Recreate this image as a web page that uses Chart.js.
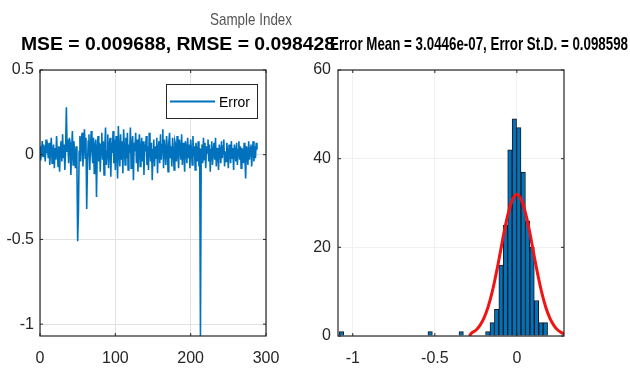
<!DOCTYPE html>
<html>
<head>
<meta charset="utf-8">
<script src="https://cdn.jsdelivr.net/npm/chart.js@4.4.1/dist/chart.umd.min.js"></script>
<style>
  html, body { margin: 0; padding: 0; background: #fff; }
  #wrap { position: relative; width: 630px; height: 376px; }
  #wrap canvas { position: absolute; left: 0; top: 0; }
</style>
</head>
<body>
<div id="wrap">
  <canvas id="errChart" width="630" height="376"></canvas>
  <canvas id="histChart" width="630" height="376"></canvas>
</div>
<script>
// Error por muestra
const errorValues = [
  -0.03, 0.05, 0.02, 0.08, -0.01, 0.06, 0.03, -0.04, 0.09, 0.01, 0.04, -0.02, 0.07, -0.06, 0.03, 0.10, -0.05, 0.02, 0.06, -0.08,
  0.04, -0.03, 0.11, 0.01, -0.07, 0.05, -0.10, 0.03, 0.08, -0.04, 0.12, -0.02, 0.06, -0.09, 0.04, 0.28, 0.02, 0.09, -0.05, 0.10,
  0.07, -0.12, 0.03, 0.14, -0.06, 0.08, 0.01, -0.08, 0.05, -0.05, -0.51, -0.34, 0.02, 0.11, -0.04, 0.09, 0.13, -0.07, 0.06, 0.15,
  -0.02, 0.10, -0.32, -0.06, 0.08, 0.12, -0.09, 0.04, 0.14, 0.02, -0.05, 0.10, -0.11, 0.05, 0.09, -0.25, 0.03, 0.11, -0.04, 0.07,
  -0.10, 0.06, 0.13, -0.03, 0.08, -0.12, 0.04, 0.16, -0.06, 0.02, 0.12, -0.08, 0.05, 0.10, -0.13, 0.07, 0.01, 0.14, -0.05, 0.09,
  -0.09, 0.11, 0.03, -0.14, 0.17, 0.02, -0.07, 0.12, -0.03, 0.08, -0.11, 0.15, 0.04, -0.06, 0.10, -0.02, 0.13, -0.09, 0.06, 0.01,
  0.16, -0.08, 0.05, 0.11, -0.15, 0.07, 0.02, 0.13, -0.05, 0.09, -0.10, 0.04, 0.12, -0.07, 0.03, 0.10, -0.04, 0.08, -0.12, 0.06,
  0.02, 0.11, -0.06, 0.05, -0.09, 0.13, 0.01, -0.04, 0.07, -0.15, 0.03, 0.09, -0.07, 0.05, -0.02, 0.10, -0.11, 0.04, 0.08, -0.05,
  0.12, -0.03, 0.06, 0.15, -0.08, 0.09, 0.02, -0.06, 0.11, 0.04, -0.10, 0.07, 0.13, -0.02, 0.05, -0.07, 0.10, 0.03, -0.09, 0.08,
  0.06, -0.04, 0.11, 0.01, -0.08, 0.09, 0.05, -0.03, 0.12, -0.06, 0.07, 0.02, -0.10, 0.08, 0.04, -0.05, 0.10, -0.02, 0.06, -0.08,
  0.09, 0.03, -0.06, 0.11, -0.01, 0.05, -0.09, 0.07, 0.02, -0.04, 0.08, -0.07, 0.04, -1.07, 0.03, 0.06, -0.05, 0.10, -0.03, 0.07,
  -0.08, 0.05, 0.01, 0.09, -0.04, 0.06, -0.10, 0.03, 0.08, -0.06, 0.02, 0.07, -0.03, 0.10, -0.07, 0.04, 0.01, -0.09, 0.06, 0.03,
  -0.05, 0.08, -0.02, 0.05, 0.09, -0.07, 0.02, -0.04, 0.07, 0.01, -0.08, 0.06, 0.03, -0.05, 0.08, -0.02, 0.04, -0.09, 0.06, 0.02,
  -0.04, 0.07, -0.06, 0.03, 0.08, -0.03, 0.05, -0.08, 0.04, 0.01, -0.05, 0.07, -0.02, -0.14, 0.05, 0.02, -0.06, 0.08, -0.03, 0.04,
  0.06, -0.07, 0.03, 0.08, -0.04, 0.05, -0.02, 0.07, 0.03
];

// Histograma: primer borde y ancho de clase, y cuentas por clase
const binStart = -1.082;
const binWidth = 0.027;
const histCounts = [
  1, 0, 0, 0, 0, 0, 0, 0, 0, 0, 0, 0, 0, 0, 0, 0, 0, 0, 0, 0,
  1, 0, 0, 0, 0, 0, 0, 1, 0, 0, 0, 0, 0,
  1, 3, 6, 16, 25, 42, 49, 47, 37, 26, 20, 8, 3, 3
];

// Curva normal ajustada
const fitX = [-0.29, -0.275, -0.25, -0.225, -0.2, -0.175, -0.15, -0.125, -0.1, -0.075, -0.05, -0.025, 0,
              0.025, 0.05, 0.075, 0.1, 0.125, 0.15, 0.175, 0.2, 0.225, 0.25, 0.275, 0.29];
const fitY = [0.0, 0.7, 1.3, 2.4, 4.1, 6.6, 10.0, 14.3, 19.1, 24.0, 28.1, 30.9, 32.0,
              30.9, 28.1, 24.0, 19.1, 14.3, 10.0, 6.6, 4.1, 2.4, 1.3, 0.7, 0.4];

// Etiquetas de los ejes
const errXTicks = [0, 100, 200, 300];
const errYTicks = [-1, -0.5, 0, 0.5];
const histXTicks = [-1, -0.5, 0];
const histYTicks = [0, 20, 40, 60];

const topTitle = 'Sample Index';
const leftTitle = 'MSE = 0.009688, RMSE = 0.098428';
const rightTitle = 'Error Mean = 3.0446e-07, Error St.D. = 0.098598';

const FONT = "'Liberation Sans', Arial, sans-serif";
const BLUE = '#0072BD';

// Texto ajustado a un ancho dado
function fitText(ctx, text, x, y, w, font, color) {
    ctx.save();
    ctx.font = font;
    ctx.fillStyle = color;
    ctx.textBaseline = 'alphabetic';
    const m = ctx.measureText(text).width;
    ctx.translate(x, y);
    ctx.scale(w / m, 1);
    ctx.fillText(text, 0, 0);
    ctx.restore();
}

// Marco del eje con marcas internas
const boxPlugin = {
    id: 'box',
    afterDraw(chart) {
        const { ctx, chartArea: a, scales } = chart;
        ctx.save();
        ctx.strokeStyle = '#262626';
        ctx.lineWidth = 1.2;
        ctx.strokeRect(a.left, a.top, a.right - a.left, a.bottom - a.top);
        ctx.lineWidth = 1;
        ctx.beginPath();
        scales.y.ticks.forEach(t => {
            const y = scales.y.getPixelForValue(t.value);
            ctx.moveTo(a.left, y); ctx.lineTo(a.left + 3, y);
            ctx.moveTo(a.right, y); ctx.lineTo(a.right - 3, y);
        });
        scales.x.ticks.forEach(t => {
            const x = scales.x.getPixelForValue(t.value);
            ctx.moveTo(x, a.bottom); ctx.lineTo(x, a.bottom - 3);
            ctx.moveTo(x, a.top); ctx.lineTo(x, a.top + 3);
        });
        ctx.stroke();
        ctx.restore();
    }
};

// Leyenda y títulos del gráfico izquierdo
const leftDecor = {
    id: 'leftDecor',
    afterDraw(chart) {
        const ctx = chart.ctx;
        ctx.save();
        ctx.fillStyle = '#fff';
        ctx.fillRect(166, 84, 91, 34);
        ctx.strokeStyle = '#262626';
        ctx.lineWidth = 1;
        ctx.strokeRect(166.5, 84.5, 91, 34);
        ctx.strokeStyle = BLUE;
        ctx.lineWidth = 2;
        ctx.beginPath();
        ctx.moveTo(170, 101.5); ctx.lineTo(215, 101.5);
        ctx.stroke();
        ctx.restore();
        fitText(ctx, chart.data.datasets[0].label, 219, 107, 31, '15px ' + FONT, '#000');
        fitText(ctx, topTitle, 210, 25, 82, '17px ' + FONT, '#555');
        fitText(ctx, leftTitle, 21, 50, 314, 'bold 19px ' + FONT, '#000');
    }
};

const rightDecor = {
    id: 'rightDecor',
    afterDraw(chart) {
        fitText(chart.ctx, rightTitle, 330, 50, 298, 'bold 19px ' + FONT, '#000');
    }
};

function tickOpts(pad) {
    return { padding: pad, color: '#262626', font: { family: FONT, size: 16 }, maxRotation: 0, autoSkip: false, callback: v => String(v) };
}

// Gráfico de error por muestra
new Chart(document.getElementById('errChart'), {
    type: 'line',
    data: {
        datasets: [{
            label: 'Error',
            data: errorValues.map((v, i) => ({ x: i, y: v })),
            borderColor: BLUE,
            borderWidth: 1.6,
            pointRadius: 0,
            tension: 0
        }]
    },
    options: {
        responsive: false,
        animation: false,
        layout: { padding: { left: 4, right: 364, top: 70, bottom: 8 } },
        plugins: { legend: { display: false }, tooltip: { enabled: false } },
        scales: {
            x: {
                type: 'linear', min: 0, max: 300,
                afterBuildTicks: s => { s.ticks = errXTicks.map(v => ({ value: v })); },
                afterFit: s => { s.height = 32; },
                grid: { color: '#e2e2e2', drawTicks: false },
                border: { display: false },
                ticks: tickOpts(13)
            },
            y: {
                min: -1.07, max: 0.5,
                afterBuildTicks: s => { s.ticks = errYTicks.map(v => ({ value: v })); },
                afterFit: s => { s.width = 36; },
                grid: { color: '#e2e2e2', drawTicks: false },
                border: { display: false },
                ticks: tickOpts(6)
            }
        }
    },
    plugins: [boxPlugin, leftDecor]
});

// Histograma del error con ajuste normal
new Chart(document.getElementById('histChart'), {
    type: 'bar',
    data: {
        datasets: [{
            type: 'line',
            data: fitX.map((x, i) => ({ x: x, y: fitY[i] })),
            borderColor: '#f01414',
            borderWidth: 3,
            pointRadius: 0,
            tension: 0.4,
            order: 0
        }, {
            type: 'bar',
            data: histCounts.map((c, i) => ({ x: binStart + (i + 0.5) * binWidth, y: c })),
            backgroundColor: BLUE,
            borderColor: '#1a1a1a',
            borderWidth: 1,
            barPercentage: 1,
            categoryPercentage: 1,
            order: 1
        }]
    },
    options: {
        responsive: false,
        animation: false,
        layout: { padding: { left: 308, right: 66, top: 70, bottom: 8 } },
        plugins: { legend: { display: false }, tooltip: { enabled: false } },
        scales: {
            x: {
                type: 'linear', min: -1.09, max: 0.287, offset: false,
                afterBuildTicks: s => { s.ticks = histXTicks.map(v => ({ value: v })); },
                afterFit: s => { s.height = 32; },
                grid: { color: '#f1f1f1', drawTicks: false, offset: false },
                border: { display: false },
                ticks: tickOpts(13)
            },
            y: {
                min: 0, max: 60,
                afterBuildTicks: s => { s.ticks = histYTicks.map(v => ({ value: v })); },
                afterFit: s => { s.width = 30; },
                grid: { color: '#f1f1f1', drawTicks: false },
                border: { display: false },
                ticks: tickOpts(7)
            }
        }
    },
    plugins: [boxPlugin, rightDecor]
});
</script>
</body>
</html>
